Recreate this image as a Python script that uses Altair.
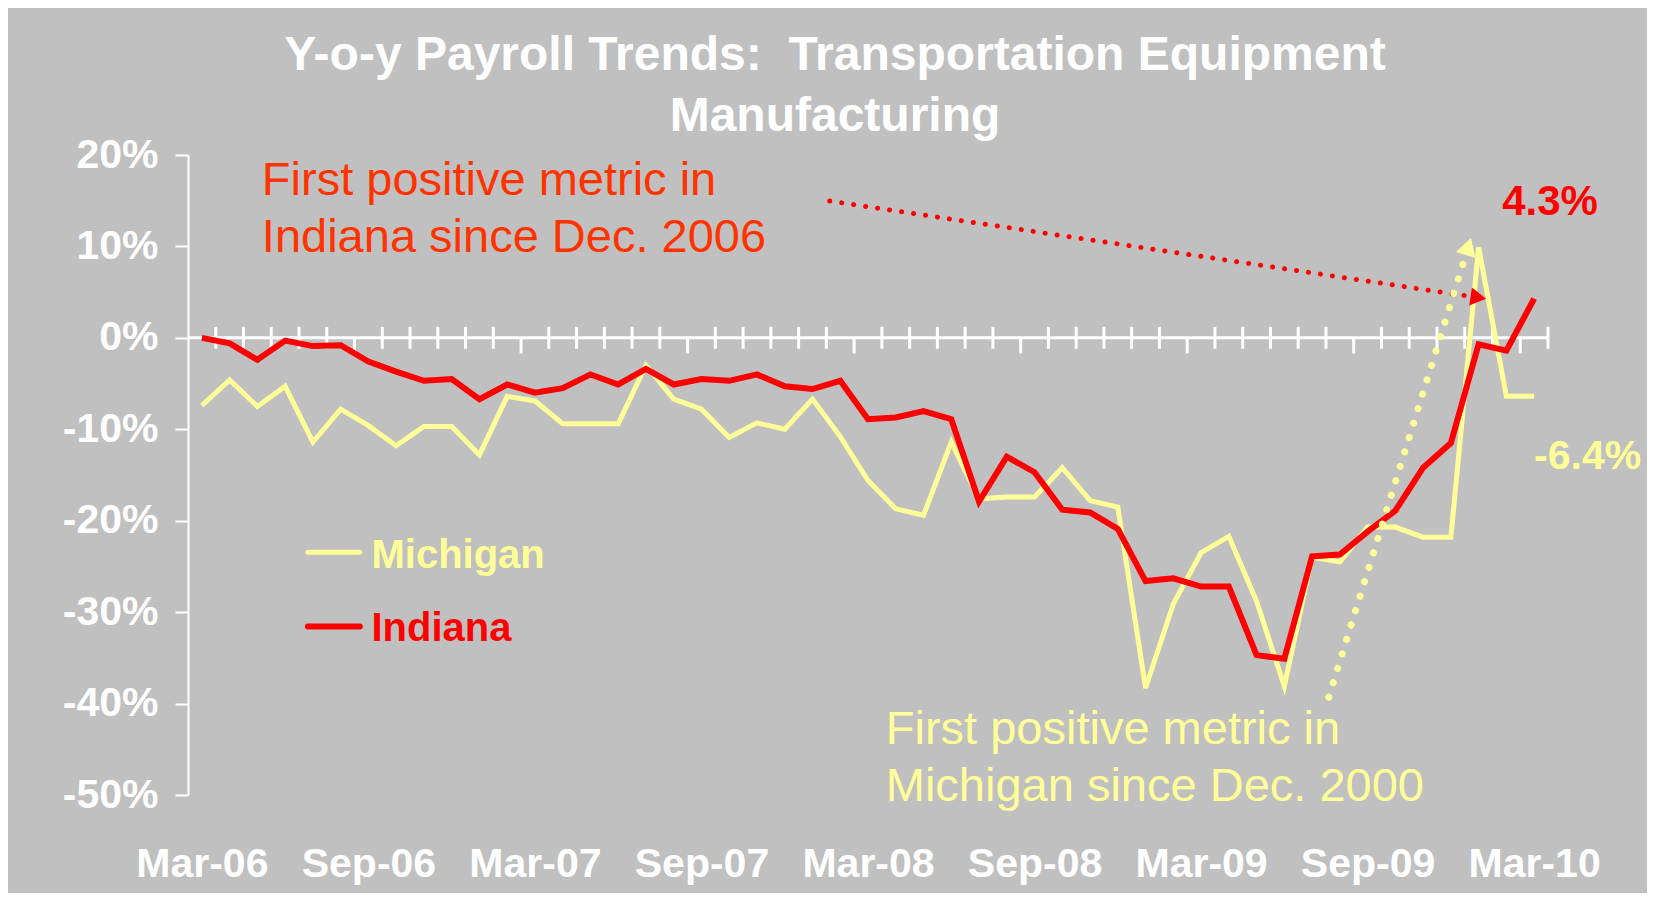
import altair as alt
import pandas as pd
import numpy as np

# ---------------- data ----------------
months = pd.date_range("2006-03-01", periods=49, freq="MS").strftime("%b-%y").tolist()
tick_labels = ["Mar-06", "Sep-06", "Mar-07", "Sep-07", "Mar-08", "Sep-08", "Mar-09", "Sep-09", "Mar-10"]

michigan = [-7.4, -4.6, -7.5, -5.3, -11.4, -7.8, -9.6, -11.8, -9.7, -9.7,
            -12.8, -6.4, -6.9, -9.4, -9.4, -9.4, -3.0, -6.7, -7.8, -10.9,
            -9.3, -10.0, -6.7, -10.8, -15.6, -18.7, -19.4, -11.4, -17.6, -17.4,
            -17.4, -14.2, -17.8, -18.5, -38.3, -29.1, -23.5, -21.7, -28.8, -38.1,
            -24.0, -24.5, -20.7, -20.7, -21.8, -21.8, 9.9, -6.4, -6.4]

indiana = [0.0, -0.6, -2.4, -0.3, -0.9, -0.8, -2.6, -3.7, -4.7, -4.5,
           -6.7, -5.1, -6.0, -5.5, -4.0, -5.1, -3.4, -5.1, -4.5, -4.7,
           -4.0, -5.3, -5.6, -4.7, -8.9, -8.7, -8.0, -8.9, -17.9, -13.0,
           -14.7, -18.8, -19.1, -20.9, -26.6, -26.3, -27.2, -27.2, -34.7, -35.1,
           -23.9, -23.7, -21.2, -18.9, -14.2, -11.5, -0.7, -1.4, 4.3]

y_ticks = [-50, -40, -30, -20, -10, 0, 10, 20]

# annotation anchors (data units: month index, percent)
red_note = "First positive metric in\nIndiana since Dec. 2006"
red_note_pos = (2.16, 15.6)
yellow_note = "First positive metric in\nMichigan since Dec. 2000"
yellow_note_pos = (24.64, -44.4)
red_arrow_x = [22.62, 45.99]
red_arrow_y = [14.96, 4.40]
yellow_arrow_x = [40.6, 45.63]
yellow_arrow_y = [-39.3, 10.0]
last_red_label = "4.3%"
last_red_pos = (46.85, 13.4)
last_yellow_label = "-6.4%"
last_yellow_pos = (48.0, -14.3)

# ---------------- styles ----------------
FONT = "Liberation Sans"
WHITE = "#FFFFFF"
RED = "#FF0000"
YELLOW = "#FFFF99"
ORANGE = "#FF3300"
BG = "#C0C0C0"

n = len(months)
idx = list(range(n))
lines_df = pd.DataFrame({
    "x": idx * 2,
    "y": michigan + indiana,
    "series": ["Michigan"] * n + ["Indiana"] * n,
})

label_values = [months.index(m) for m in tick_labels]
label_expr = "[" + ",".join("'%s'" % m for m in months) + "][datum.value]"

x_scale = alt.Scale(domain=[-0.5, n - 0.5], nice=False, zero=False)
y_scale = alt.Scale(domain=[-50, 20], nice=False, zero=False)

X = alt.X("x:Q", scale=x_scale, title=None,
          axis=alt.Axis(values=label_values, labelExpr=label_expr, domain=False,
                        ticks=False, grid=False, labelFont=FONT, labelFontSize=41,
                        labelFontWeight="bold", labelColor=WHITE, labelPadding=49,
                        labelFlush=False, labelOverlap=False))
Y = alt.Y("y:Q", scale=y_scale, title=None,
          axis=alt.Axis(values=y_ticks, labelExpr="datum.value + '%'", grid=False,
                        domainColor=WHITE, domainWidth=2, tickColor=WHITE, tickWidth=2,
                        tickSize=13, labelFont=FONT, labelFontSize=41,
                        labelFontWeight="bold", labelColor=WHITE, labelPadding=17))

# category boundaries for the x tick marks on the zero line
bounds = np.arange(n) + 0.5
major = [b for b in bounds if (b + 0.5) % 6 == 0 and b < n - 0.5]
minor = [b for b in bounds if b not in major]

zero_df = pd.DataFrame({"x": [-0.5], "x2": [n - 0.5], "y": [0]})
zero_line = alt.Chart(zero_df).mark_rule(color=WHITE, strokeWidth=3).encode(
    x=X, x2="x2:Q", y=Y)

minor_df = pd.DataFrame({"x": minor, "y": [1.2] * len(minor), "y2": [-1.2] * len(minor)})
minor_ticks = alt.Chart(minor_df).mark_rule(color=WHITE, strokeWidth=3).encode(
    x=X, y=Y, y2="y2:Q")

major_df = pd.DataFrame({"x": major, "y": [0.0] * len(major), "y2": [-1.7] * len(major)})
major_ticks = alt.Chart(major_df).mark_rule(color=WHITE, strokeWidth=3).encode(
    x=X, y=Y, y2="y2:Q")

mich_line = alt.Chart(lines_df).transform_filter(
    alt.datum.series == "Michigan").mark_line(
    color=YELLOW, strokeWidth=5, strokeJoin="miter").encode(x=X, y=Y)
ind_line = alt.Chart(lines_df).transform_filter(
    alt.datum.series == "Indiana").mark_line(
    color=RED, strokeWidth=6, strokeJoin="miter").encode(x=X, y=Y)

# dotted arrows
red_arrow_df = pd.DataFrame({"x": red_arrow_x, "y": red_arrow_y})
red_arrow = alt.Chart(red_arrow_df).mark_line(
    color=RED, strokeWidth=5, strokeDash=[0.1, 12], strokeCap="round").encode(x=X, y=Y)
red_head = alt.Chart(red_arrow_df.tail(1)).mark_point(
    shape="triangle-right", angle=8.5, size=330, filled=True, color=RED, opacity=1).encode(x=X, y=Y)

yel_arrow_df = pd.DataFrame({"x": yellow_arrow_x, "y": yellow_arrow_y})
yel_arrow = alt.Chart(yel_arrow_df).mark_line(
    color=YELLOW, strokeWidth=7, strokeDash=[0.1, 15], strokeCap="round").encode(x=X, y=Y)
yel_head = alt.Chart(yel_arrow_df.tail(1)).mark_point(
    shape="triangle-up", angle=17, size=420, filled=True, color=YELLOW, opacity=1).encode(x=X, y=Y)


def note(text, pos, color, size, weight="normal"):
    df = pd.DataFrame({"x": [pos[0]], "y": [pos[1]], "t": [text]})
    return alt.Chart(df).mark_text(
        align="left", baseline="alphabetic", font=FONT, fontSize=size,
        fontWeight=weight, color=color, lineBreak="\n", lineHeight=57).encode(
        x=X, y=Y, text="t:N")


red_text = note(red_note, red_note_pos, ORANGE, 47)
yel_text = note(yellow_note, yellow_note_pos, YELLOW, 47)
red_last = note(last_red_label, last_red_pos, RED, 42, "bold")
yel_last = note(last_yellow_label, last_yellow_pos, YELLOW, 41, "bold")

# legend (drawn in data space)
legend_series = ["Michigan", "Indiana"]
legend_colors = [YELLOW, RED]
legend_widths = [5, 6]
legend_line_y = [-23.46, -31.56]
legend_text_y = [-25.2, -33.2]
legend_layers = []
for s, c, w, ly, ty in zip(legend_series, legend_colors, legend_widths, legend_line_y, legend_text_y):
    ldf = pd.DataFrame({"x": [3.82], "x2": [5.69], "y": [ly]})
    legend_layers.append(alt.Chart(ldf).mark_rule(color=c, strokeWidth=w, strokeCap="round").encode(
        x=X, x2="x2:Q", y=Y))
    legend_layers.append(note(s, (6.11, ty), c, 40, "bold"))

chart = alt.layer(
    zero_line, minor_ticks, major_ticks, mich_line, ind_line,
    red_arrow, red_head, yel_arrow, yel_head,
    red_text, yel_text, red_last, yel_last, *legend_layers
).properties(
    width=1360, height=640,
    padding={"left": 180, "top": 147, "right": 99, "bottom": 98},
    autosize="none",
    background=BG,
    title=alt.TitleParams(
        text=["Y-o-y Payroll Trends:\u00a0 Transportation Equipment", "Manufacturing"],
        font=FONT, fontSize=48, fontWeight="bold", color=WHITE, lineHeight=61,
        anchor="middle", frame="group", dx=-33, offset=-7),
).configure_view(stroke=None)

chart.save("out.html", embed_options={"renderer": "svg", "actions": False})
